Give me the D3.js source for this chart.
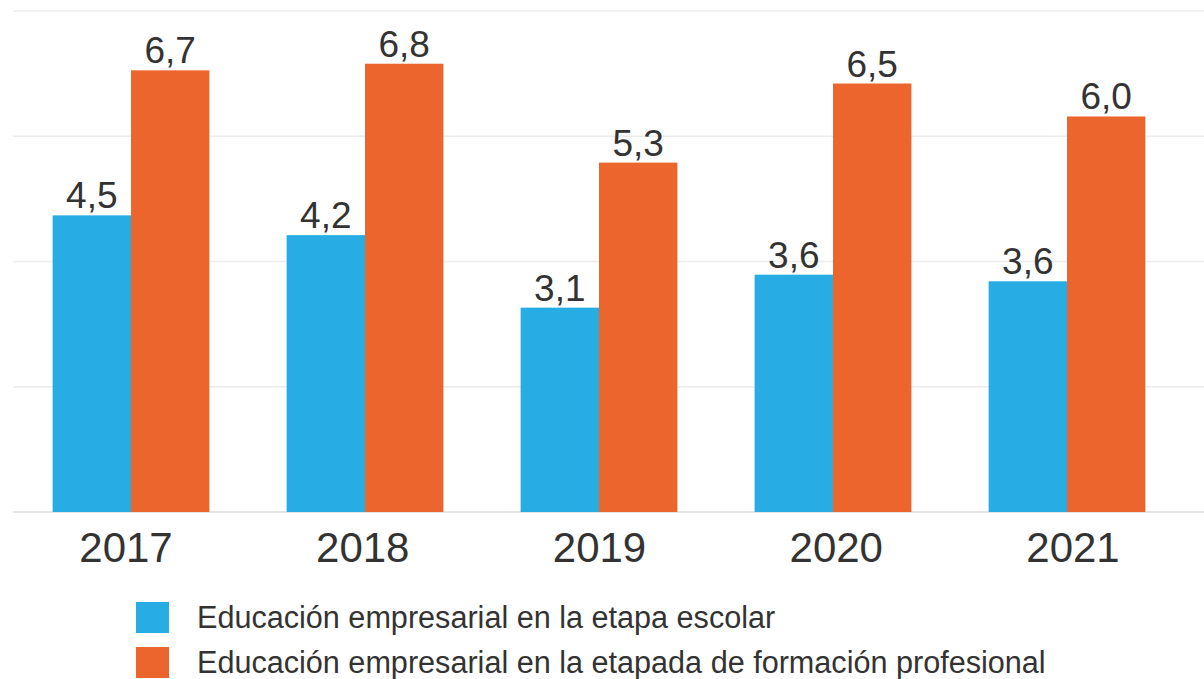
<!DOCTYPE html>
<html lang="es">
<head>
    <meta charset="UTF-8">
    <title>Educación empresarial</title>
    <script src="https://cdn.jsdelivr.net/npm/d3@7"></script>
    <style>
        body { margin: 0; background: #fff; }
        text { font-family: "Liberation Sans", Arial, sans-serif; fill: #333; }
    </style>
</head>
<body>
<div id="chart"></div>
<script>
    // data
    const years = ["2017", "2018", "2019", "2020", "2021"];
    const escolar = [4.5, 4.2, 3.1, 3.6, 3.5];
    const escolarLabels = ["4,5", "4,2", "3,1", "3,6", "3,6"];
    const fp = [6.7, 6.8, 5.3, 6.5, 6.0];
    const fpLabels = ["6,7", "6,8", "5,3", "6,5", "6,0"];
    const gridTicks = [0, 1.9, 3.8, 5.7, 7.6];
    const seriesNames = ["Educación empresarial en la etapa escolar",
                         "Educación empresarial en la etapada de formación profesional"];
    const colors = ["#27ade4", "#ec652d"];

    const width = 1204, height = 679;

    const svg = d3.select("#chart").append("svg")
        .attr("width", width)
        .attr("height", height);

    const x = d3.scaleBand()
        .domain(years)
        .range([14, 1184])
        .paddingInner(0.33)
        .paddingOuter(0.165);

    // year labels sit on a slightly wider spacing than the bar groups
    const xLabel = d3.scalePoint()
        .domain(years)
        .range([126, 1073]);

    const xSub = d3.scaleBand()
        .domain([0, 1])
        .range([0, x.bandwidth()]);

    const y = d3.scaleLinear()
        .domain([0, 7.6])
        .range([512, 11]);

    // gridlines
    svg.append("g")
        .selectAll("line")
        .data(gridTicks)
        .enter()
        .append("line")
        .attr("x1", 13)
        .attr("x2", width)
        .attr("y1", d => y(d))
        .attr("y2", d => y(d))
        .attr("stroke", d => d === 0 ? "#dcdcdc" : "#ececec")
        .attr("stroke-width", 1.5);

    const rows = years.map((yr, i) => ({
        year: yr,
        vals: [
            {s: 0, v: escolar[i], label: escolarLabels[i]},
            {s: 1, v: fp[i], label: fpLabels[i]}
        ]
    }));

    const groups = svg.append("g")
        .selectAll("g")
        .data(rows)
        .enter()
        .append("g")
        .attr("transform", d => `translate(${x(d.year)},0)`);

    groups.selectAll("rect")
        .data(d => d.vals)
        .enter()
        .append("rect")
        .attr("x", d => xSub(d.s))
        .attr("width", xSub.bandwidth())
        .attr("y", d => y(d.v))
        .attr("height", d => y(0) - y(d.v))
        .attr("fill", d => colors[d.s]);

    groups.selectAll("text.val")
        .data(d => d.vals)
        .enter()
        .append("text")
        .attr("class", "val")
        .attr("x", d => xSub(d.s) + xSub.bandwidth() / 2)
        .attr("y", d => y(d.v) - 7)
        .attr("text-anchor", "middle")
        .style("font-size", "37px")
        .text(d => d.label);

    // year labels
    svg.append("g")
        .selectAll("text")
        .data(years)
        .enter()
        .append("text")
        .attr("x", d => xLabel(d))
        .attr("y", 562)
        .attr("text-anchor", "middle")
        .style("font-size", "42px")
        .text(d => d);

    // legend
    const legend = svg.append("g")
        .selectAll("g")
        .data(seriesNames)
        .enter()
        .append("g")
        .attr("transform", (d, i) => `translate(136,${602 + i * 45})`);

    legend.append("rect")
        .attr("width", 33)
        .attr("height", 31)
        .attr("fill", (d, i) => colors[i]);

    legend.append("text")
        .attr("x", 61)
        .attr("y", 26)
        .style("font-size", "30.6px")
        .text(d => d);
</script>
</body>
</html>
